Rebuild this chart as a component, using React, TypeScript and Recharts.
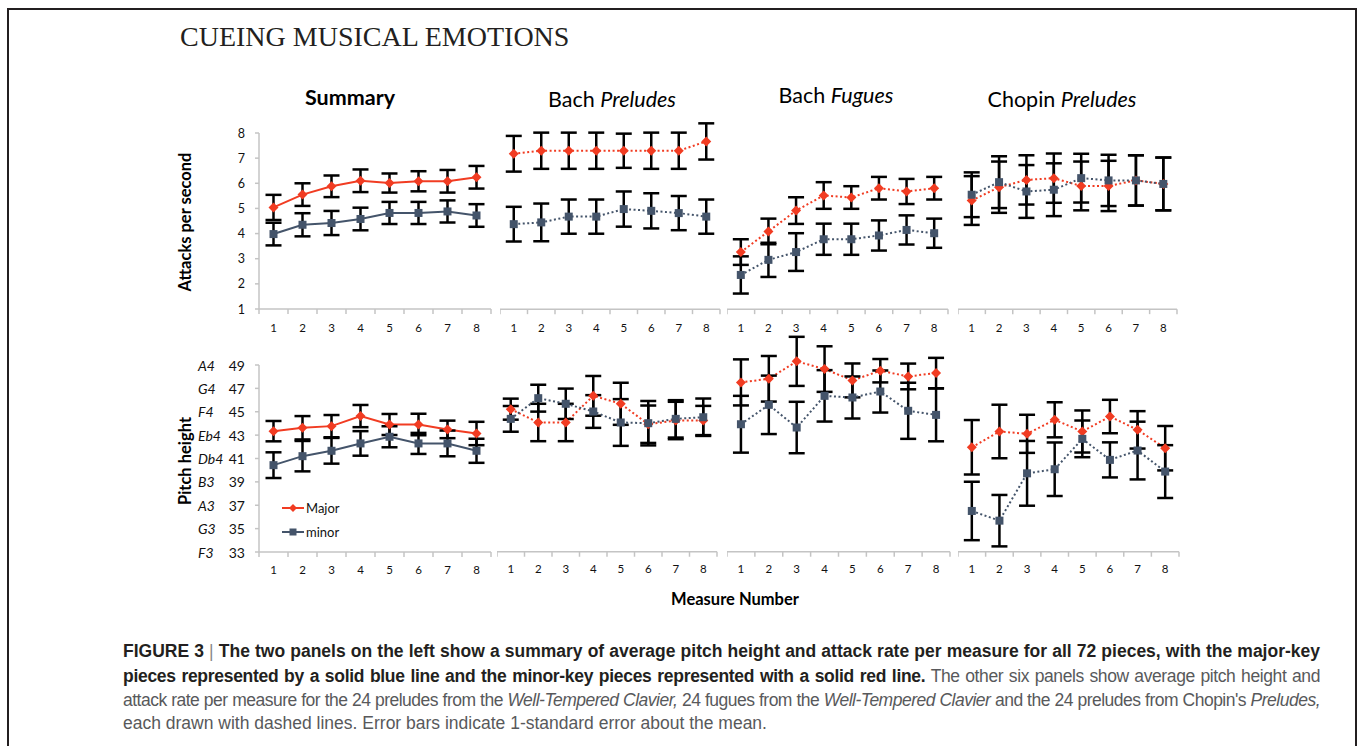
import React from 'react';
import { LineChart, Line, XAxis, YAxis, ErrorBar, Legend } from 'recharts';

// measures on the x axis, boundaries for the tick marks
const measures = [1, 2, 3, 4, 5, 6, 7, 8];
const bounds = [0.5, 1.5, 2.5, 3.5, 4.5, 5.5, 6.5, 7.5, 8.5];
const attackTicks = [1, 2, 3, 4, 5, 6, 7, 8];
const pitchTicks = [33, 35, 37, 39, 41, 43, 45, 47, 49];
const noteNames = ['F3', 'G3', 'A3', 'B3', 'Db4', 'Eb4', 'F4', 'G4', 'A4'];

// attacks per second
const sumAttMaj = [5.04, 5.55, 5.88, 6.1, 6.01, 6.08, 6.08, 6.24];
const sumAttMajErr = [0.5, 0.45, 0.43, 0.45, 0.38, 0.4, 0.45, 0.45];
const sumAttMin = [3.98, 4.35, 4.42, 4.58, 4.82, 4.82, 4.88, 4.72];
const sumAttMinErr = [0.45, 0.46, 0.48, 0.45, 0.44, 0.44, 0.44, 0.45];

const bpAttMaj = [7.18, 7.3, 7.3, 7.3, 7.3, 7.3, 7.3, 7.67];
const bpAttMajErr = [0.71, 0.72, 0.72, 0.72, 0.68, 0.72, 0.72, 0.72];
const bpAttMin = [4.38, 4.45, 4.68, 4.68, 4.98, 4.91, 4.82, 4.68];
const bpAttMinErr = [0.69, 0.75, 0.68, 0.68, 0.7, 0.7, 0.68, 0.68];

const bfAttMaj = [3.27, 4.09, 4.92, 5.52, 5.44, 5.81, 5.68, 5.81];
const bfAttMajErr = [0.51, 0.51, 0.53, 0.53, 0.45, 0.45, 0.5, 0.45];
const bfAttMin = [2.36, 2.96, 3.27, 3.78, 3.78, 3.93, 4.15, 4.02];
const bfAttMinErr = [0.74, 0.68, 0.75, 0.62, 0.62, 0.6, 0.58, 0.58];

const chAttMaj = [5.32, 5.85, 6.14, 6.21, 5.9, 5.9, 6.12, 5.98];
const chAttMajErr = [0.97, 1.02, 0.98, 0.98, 0.97, 1.0, 1.0, 1.05];
const chAttMin = [5.55, 6.05, 5.68, 5.75, 6.21, 6.12, 6.12, 5.98];
const chAttMinErr = [0.89, 1.03, 1.05, 1.05, 0.97, 1.02, 1.0, 1.05];

// pitch height
const sumPitMaj = [43.34, 43.63, 43.77, 44.63, 43.91, 43.91, 43.49, 43.14];
const sumPitMajErr = [0.87, 1.0, 0.95, 0.95, 0.9, 0.92, 0.75, 1.0];
const sumPitMin = [40.43, 41.2, 41.66, 42.29, 42.86, 42.29, 42.29, 41.66];
const sumPitMinErr = [1.1, 1.3, 1.1, 1.05, 0.9, 0.9, 1.1, 1.03];

const bpPitMaj = [45.2, 44.06, 44.06, 46.34, 45.66, 43.91, 44.23, 44.23];
const bpPitMajErr = [0.9, 1.6, 1.6, 1.7, 1.8, 1.6, 1.6, 1.25];
const bpPitMin = [44.37, 46.14, 45.66, 45.0, 44.06, 44.0, 44.37, 44.51];
const bpPitMinErr = [1.1, 1.15, 1.3, 1.4, 2.0, 1.9, 1.6, 1.6];

const bfPitMaj = [47.49, 47.8, 49.29, 48.63, 47.66, 48.49, 48.0, 48.29];
const bfPitMajErr = [1.97, 1.95, 2.1, 1.95, 1.45, 1.0, 1.1, 1.3];
const bfPitMin = [43.91, 45.57, 43.63, 46.34, 46.2, 46.71, 45.06, 44.71];
const bfPitMinErr = [2.43, 2.5, 2.2, 2.2, 1.8, 1.8, 2.4, 2.26];

const chPitMaj = [41.94, 43.29, 43.09, 44.29, 43.29, 44.57, 43.43, 41.86];
const chPitMajErr = [2.33, 2.29, 1.63, 1.5, 1.8, 1.43, 1.6, 1.9];
const chPitMin = [36.49, 35.66, 39.71, 40.06, 42.66, 40.86, 41.66, 39.86];
const chPitMinErr = [2.5, 2.2, 2.77, 2.29, 1.57, 1.5, 2.47, 2.26];

const RED = '#f13c22';
const BLUE = '#44546a';
const AXIS = '#c4c4c4';
const FONT = 'Lato, "Open Sans", sans-serif';

const rows = (maj: number[], majErr: number[], min: number[], minErr: number[]) =>
  measures.map((m, i) => ({ m, maj: maj[i], majErr: majErr[i], min: min[i], minErr: minErr[i] }));

const Diamond = (p: any) => {
  const { cx, cy } = p;
  if (cx == null || cy == null) return null;
  return <path key={`d${p.index}`} d={`M${cx},${cy - 5}L${cx + 5},${cy}L${cx},${cy + 5}L${cx - 5},${cy}Z`} fill={RED} />;
};

const Square = (p: any) => {
  const { cx, cy } = p;
  if (cx == null || cy == null) return null;
  return <rect key={`s${p.index}`} x={cx - 4} y={cy - 4} width={8} height={8} fill={BLUE} />;
};

const MeasureTick = (p: any) => {
  const m = p.payload.value + 0.5;
  if (m > 8) return null;
  return (
    <text x={p.x + p.band / 2} y={p.y} textAnchor="middle" dominantBaseline="central" fontSize={11.5} fontFamily={FONT} fill="#111">
      {m}
    </text>
  );
};

const AttackTick = (p: any) => (
  <text x={p.x} y={p.y} textAnchor="end" dominantBaseline="central" fontSize={12.5} fontFamily={FONT} fill="#111">
    {p.payload.value}
  </text>
);

const PitchTick = (p: any) => {
  const idx = pitchTicks.indexOf(p.payload.value);
  return (
    <g>
      <text x={p.x - 47} y={p.y} textAnchor="start" dominantBaseline="central" fontSize={14} fontStyle="italic" fontFamily={FONT} fill="#111">
        {noteNames[idx]}
      </text>
      <text x={p.x} y={p.y} textAnchor="end" dominantBaseline="central" fontSize={14} fontFamily={FONT} fill="#111">
        {p.payload.value}
      </text>
    </g>
  );
};

const LegendBox = (props: any) => (
  <div style={{ fontFamily: FONT, fontSize: 13, color: '#111' }}>
    {(props.payload || []).map((e: any) => (
      <div key={e.value} style={{ display: 'flex', alignItems: 'center', height: 24 }}>
        <svg width={23} height={12}>
          <line x1={0} y1={6} x2={22} y2={6} stroke={e.color} strokeWidth={2} />
          {e.value === 'Major' ? (
            <path d="M11,2L15,6L11,10L7,6Z" fill={RED} />
          ) : (
            <rect x={7.5} y={2.5} width={7} height={7} fill={BLUE} />
          )}
        </svg>
        <span style={{ marginLeft: 1 }}>{e.value}</span>
      </div>
    ))}
  </div>
);

type PanelProps = {
  data: ReturnType<typeof rows>;
  x0: number;
  x1: number;
  yBase: number;
  unit: number;
  domain: [number, number];
  kind: 'attack' | 'pitch';
  showAxis?: boolean;
  legend?: boolean;
};

function Panel({ data, x0, x1, yBase, unit, domain, kind, showAxis, legend }: PanelProps) {
  const yw = showAxis ? 72 : 0;
  const mt = 12;
  const mr = 6;
  const xh = 30;
  const plotH = (domain[1] - domain[0]) * unit;
  const band = (x1 - x0) / 8;
  const solid = !!showAxis;
  const dash = solid ? undefined : '2 2.5';
  const chartTop = yBase - plotH - mt;
  return (
    <div style={{ position: 'absolute', left: x0 - yw, top: chartTop }}>
      <LineChart width={yw + (x1 - x0) + mr} height={mt + plotH + xh} data={data} margin={{ top: mt, right: mr, bottom: 0, left: 0 }}>
        <XAxis
          dataKey="m"
          type="number"
          domain={[0.5, 8.5]}
          ticks={bounds}
          interval={0}
          stroke={AXIS}
          strokeWidth={1.5}
          tickSize={5}
          tickMargin={kind === 'attack' ? 13 : 12}
          height={xh}
          tick={(p: any) => <MeasureTick {...p} band={band} />}
        />
        {showAxis ? (
          <YAxis
            type="number"
            domain={domain}
            ticks={kind === 'attack' ? attackTicks : pitchTicks}
            interval={0}
            width={yw}
            stroke={AXIS}
            strokeWidth={1.5}
            tickSize={4}
            tickMargin={10}
            allowDataOverflow
            tick={(p: any) => (kind === 'attack' ? <AttackTick {...p} /> : <PitchTick {...p} />)}
          />
        ) : (
          <YAxis hide type="number" domain={domain} allowDataOverflow />
        )}
        {legend && (
          <Legend
            layout="vertical"
            align="center"
            verticalAlign="middle"
            wrapperStyle={{ position: 'absolute', left: 282 - (x0 - yw), top: 496 - chartTop, width: 'auto' }}
            content={LegendBox}
          />
        )}
        <Line
          name="Major"
          dataKey="maj"
          stroke={RED}
          strokeWidth={2}
          strokeDasharray={dash}
          dot={(p: any) => <Diamond {...p} />}
          activeDot={false}
          isAnimationActive={false}
        >
          <ErrorBar dataKey="majErr" direction="y" width={8} stroke="#000" strokeWidth={2.5} isAnimationActive={false} />
        </Line>
        <Line
          name="minor"
          dataKey="min"
          stroke={BLUE}
          strokeWidth={2}
          strokeDasharray={dash}
          dot={(p: any) => <Square {...p} />}
          activeDot={false}
          isAnimationActive={false}
        >
          <ErrorBar dataKey="minErr" direction="y" width={8} stroke="#000" strokeWidth={2.5} isAnimationActive={false} />
        </Line>
      </LineChart>
    </div>
  );
}

const topUnit = 176 / 7;
const botUnit = 187 / 16;

const abs = (left: number, top: number, extra: React.CSSProperties = {}): React.CSSProperties => ({
  position: 'absolute',
  left,
  top,
  whiteSpace: 'nowrap',
  ...extra,
});

const titleStyle = (cx: number, cy: number, bold = false): React.CSSProperties =>
  abs(cx, cy, { transform: 'translate(-50%,-50%)', fontFamily: FONT, fontSize: 21.5, fontWeight: bold ? 700 : 400, color: '#000' });

const capBold: React.CSSProperties = { fontWeight: 700, color: '#231f20', letterSpacing: 0 };
const justified: React.CSSProperties = { width: 1197, textAlign: 'justify', textAlignLast: 'justify', whiteSpace: 'nowrap' };

export default function App() {
  return (
    <div style={{ position: 'absolute', left: 0, top: 0, width: 1358, height: 746, background: '#fff', overflow: 'hidden' }}>
      <div style={abs(7, 8, { width: 1346, height: 760, borderTop: '2px solid #231f20', borderLeft: '2px solid #231f20', borderRight: '2px solid #231f20' })} />
      <div style={abs(180, 22, { fontFamily: '"Liberation Serif", "Times New Roman", serif', fontSize: 28, color: '#231f20', lineHeight: '30px' })}>
        CUEING MUSICAL EMOTIONS
      </div>

      <div style={titleStyle(350, 97, true)}>Summary</div>
      <div style={titleStyle(612, 99)}>
        Bach <i>Preludes</i>
      </div>
      <div style={titleStyle(836, 95)}>
        Bach <i>Fugues</i>
      </div>
      <div style={titleStyle(1062, 99)}>
        Chopin <i>Preludes</i>
      </div>

      <div style={abs(185, 222, { transform: 'translate(-50%,-50%) rotate(-90deg)', fontFamily: FONT, fontSize: 16.5, fontWeight: 700 })}>
        Attacks per second
      </div>
      <div style={abs(185, 461, { transform: 'translate(-50%,-50%) rotate(-90deg)', fontFamily: FONT, fontSize: 16.5, fontWeight: 700 })}>
        Pitch height
      </div>

      <Panel data={rows(sumAttMaj, sumAttMajErr, sumAttMin, sumAttMinErr)} x0={259} x1={491} yBase={309} unit={topUnit} domain={[1, 8]} kind="attack" showAxis />
      <Panel data={rows(bpAttMaj, bpAttMajErr, bpAttMin, bpAttMinErr)} x0={500} x1={720} yBase={309} unit={topUnit} domain={[1, 9]} kind="attack" />
      <Panel data={rows(bfAttMaj, bfAttMajErr, bfAttMin, bfAttMinErr)} x0={727} x1={948} yBase={309} unit={topUnit} domain={[1, 9]} kind="attack" />
      <Panel data={rows(chAttMaj, chAttMajErr, chAttMin, chAttMinErr)} x0={958} x1={1177} yBase={309} unit={topUnit} domain={[1, 9]} kind="attack" />

      <Panel data={rows(sumPitMaj, sumPitMajErr, sumPitMin, sumPitMinErr)} x0={259} x1={491} yBase={552} unit={botUnit} domain={[33, 49]} kind="pitch" showAxis legend />
      <Panel data={rows(bpPitMaj, bpPitMajErr, bpPitMin, bpPitMinErr)} x0={497} x1={717} yBase={552} unit={botUnit} domain={[33, 53]} kind="pitch" />
      <Panel data={rows(bfPitMaj, bfPitMajErr, bfPitMin, bfPitMinErr)} x0={727} x1={950} yBase={552} unit={botUnit} domain={[33, 53]} kind="pitch" />
      <Panel data={rows(chPitMaj, chPitMajErr, chPitMin, chPitMinErr)} x0={958} x1={1179} yBase={552} unit={botUnit} domain={[33, 53]} kind="pitch" />

      <div style={abs(735, 599, { transform: 'translate(-50%,-50%)', fontFamily: FONT, fontSize: 16.5, fontWeight: 700 })}>Measure Number</div>

      <div style={{ fontFamily: '"Liberation Sans", Arial, sans-serif', fontSize: 17.5, color: '#58595b', lineHeight: '20px' }}>
        <div style={abs(123, 641, { ...justified, ...capBold })}>
          FIGURE 3 <span style={{ fontWeight: 400, color: '#888' }}>|</span> The two panels on the left show a summary of average pitch height and attack rate per measure for all 72 pieces, with the major-key
        </div>
        <div style={abs(123, 666, justified)}>
          <span style={{ ...capBold, letterSpacing: -0.3 }}>pieces represented by a solid blue line and the minor-key pieces represented with a solid red line.</span>
          <span style={{ letterSpacing: -0.4 }}> The other six panels show average pitch height and</span>
        </div>
        <div style={abs(123, 690, { ...justified, letterSpacing: -0.5 })}>
          attack rate per measure for the 24 preludes from the <i>Well-Tempered Clavier,</i> 24 fugues from the <i>Well-Tempered Clavier</i> and the 24 preludes from Chopin's <i>Preludes,</i>
        </div>
        <div style={abs(123, 713)}>each drawn with dashed lines. Error bars indicate 1-standard error about the mean.</div>
      </div>
    </div>
  );
}
